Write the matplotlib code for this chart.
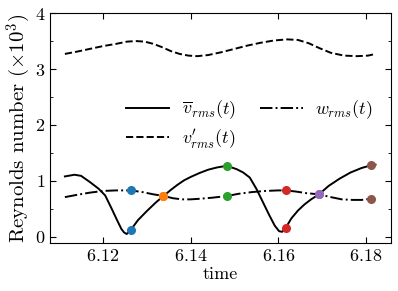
import numpy as np
import matplotlib
matplotlib.use('Agg')
import matplotlib.pyplot as plt
from matplotlib.ticker import MultipleLocator

plt.rcParams['font.family'] = 'serif'
plt.rcParams['font.serif'] = ['cmr10']
plt.rcParams['mathtext.fontset'] = 'cm'
plt.rcParams['axes.formatter.use_mathtext'] = True
plt.rcParams['font.size'] = 13

# mean velocity rms (solid)
t_v = [6.1113, 6.1135, 6.1150, 6.1170, 6.1190, 6.1205, 6.1220, 6.1232, 6.1242, 6.1248,
       6.1254, 6.1264, 6.1280, 6.1300, 6.1320, 6.1338, 6.1355, 6.1370, 6.1385, 6.1400,
       6.1420, 6.1440, 6.1460, 6.1475, 6.1490, 6.1505, 6.1520, 6.1535, 6.1550, 6.1565,
       6.1580, 6.1592, 6.1602, 6.1609, 6.1617, 6.1630, 6.1645, 6.1660, 6.1675, 6.1693,
       6.1715, 6.1740, 6.1765, 6.1790, 6.1812, 6.1822]
v_bar = [1.08, 1.11, 1.09, 0.98, 0.86, 0.74, 0.50, 0.30, 0.14, 0.08,
         0.05, 0.13, 0.30, 0.46, 0.61, 0.73, 0.84, 0.93, 1.01, 1.07,
         1.14, 1.20, 1.24, 1.26, 1.25, 1.21, 1.15, 1.06, 0.86, 0.62,
         0.38, 0.20, 0.10, 0.09, 0.16, 0.33, 0.47, 0.58, 0.67, 0.76,
         0.91, 1.04, 1.15, 1.23, 1.28, 1.29]

# fluctuating v rms (dashed)
t_vp = [6.1113, 6.1140, 6.1170, 6.1200, 6.1230, 6.1255, 6.1275, 6.1295, 6.1315, 6.1335,
        6.1355, 6.1375, 6.1395, 6.1415, 6.1440, 6.1470, 6.1500, 6.1530, 6.1560, 6.1590,
        6.1620, 6.1645, 6.1670, 6.1695, 6.1720, 6.1750, 6.1780, 6.1805, 6.1822]
v_prime = [3.27, 3.31, 3.36, 3.41, 3.45, 3.49, 3.50, 3.49, 3.45, 3.39,
           3.32, 3.27, 3.24, 3.23, 3.25, 3.30, 3.36, 3.42, 3.47, 3.51,
           3.53, 3.52, 3.46, 3.37, 3.29, 3.24, 3.23, 3.24, 3.27]

# w rms (dash-dot)
t_w = [6.1113, 6.1140, 6.1170, 6.1200, 6.1230, 6.1264, 6.1290, 6.1315, 6.1338, 6.1360,
       6.1380, 6.1400, 6.1420, 6.1450, 6.1483, 6.1510, 6.1540, 6.1570, 6.1600, 6.1617,
       6.1640, 6.1665, 6.1693, 6.1720, 6.1745, 6.1770, 6.1790, 6.1812]
w_rms = [0.71, 0.75, 0.79, 0.82, 0.83, 0.83, 0.80, 0.76, 0.73, 0.69,
         0.67, 0.67, 0.68, 0.70, 0.73, 0.77, 0.80, 0.82, 0.83, 0.83,
         0.81, 0.78, 0.76, 0.71, 0.67, 0.66, 0.66, 0.68]

# marked instants
t_mark = [6.1264, 6.1338, 6.1483, 6.1617, 6.1693, 6.1812]
v_mark = [0.13, 0.73, 1.26, 0.16, 0.76, 1.28]
w_mark = [0.83, 0.73, 0.73, 0.83, 0.76, 0.68]

fig = plt.figure(figsize=(3.98, 2.91), dpi=100)
ax = fig.add_axes([0.1256, 0.165, 0.8564, 0.79])

ax.plot(t_v, v_bar, 'k-', lw=1.4, label=r'$\overline{v}_{rms}(t)$')
ax.plot(t_vp, v_prime, 'k--', lw=1.4, label=r"$v^{\prime}_{rms}(t)$")
ax.plot(t_w, w_rms, 'k-.', lw=1.4, label=r'$w_{rms}(t)$')

for i in range(len(t_mark)):
    ax.plot(t_mark[i], v_mark[i], 'o', color='C%d' % i, ms=5.5, zorder=3)
    ax.plot(t_mark[i], w_mark[i], 'o', color='C%d' % i, ms=5.5, zorder=3)

ax.set_xlim(6.1079, 6.1857)
ax.set_ylim(-0.11, 4)
ax.set_xticks([6.12, 6.14, 6.16, 6.18])
ax.set_yticks([0, 1, 2, 3, 4])
ax.yaxis.set_minor_locator(MultipleLocator(0.5))
ax.tick_params(which='both', direction='in', top=True, right=True)
ax.tick_params(which='major', length=4)
ax.tick_params(which='minor', length=2.5)

ax.set_xlabel('time', labelpad=2)
ax.set_ylabel(r'Reynolds number $(\times 10^3)$', fontsize=15, labelpad=1)

ax.legend(loc='upper left', bbox_to_anchor=(0.175, 0.70), ncol=2, frameon=False,
          handlelength=2.4, columnspacing=1.3, labelspacing=0.35, handletextpad=0.7)

fig.savefig('out.png', dpi=100)
